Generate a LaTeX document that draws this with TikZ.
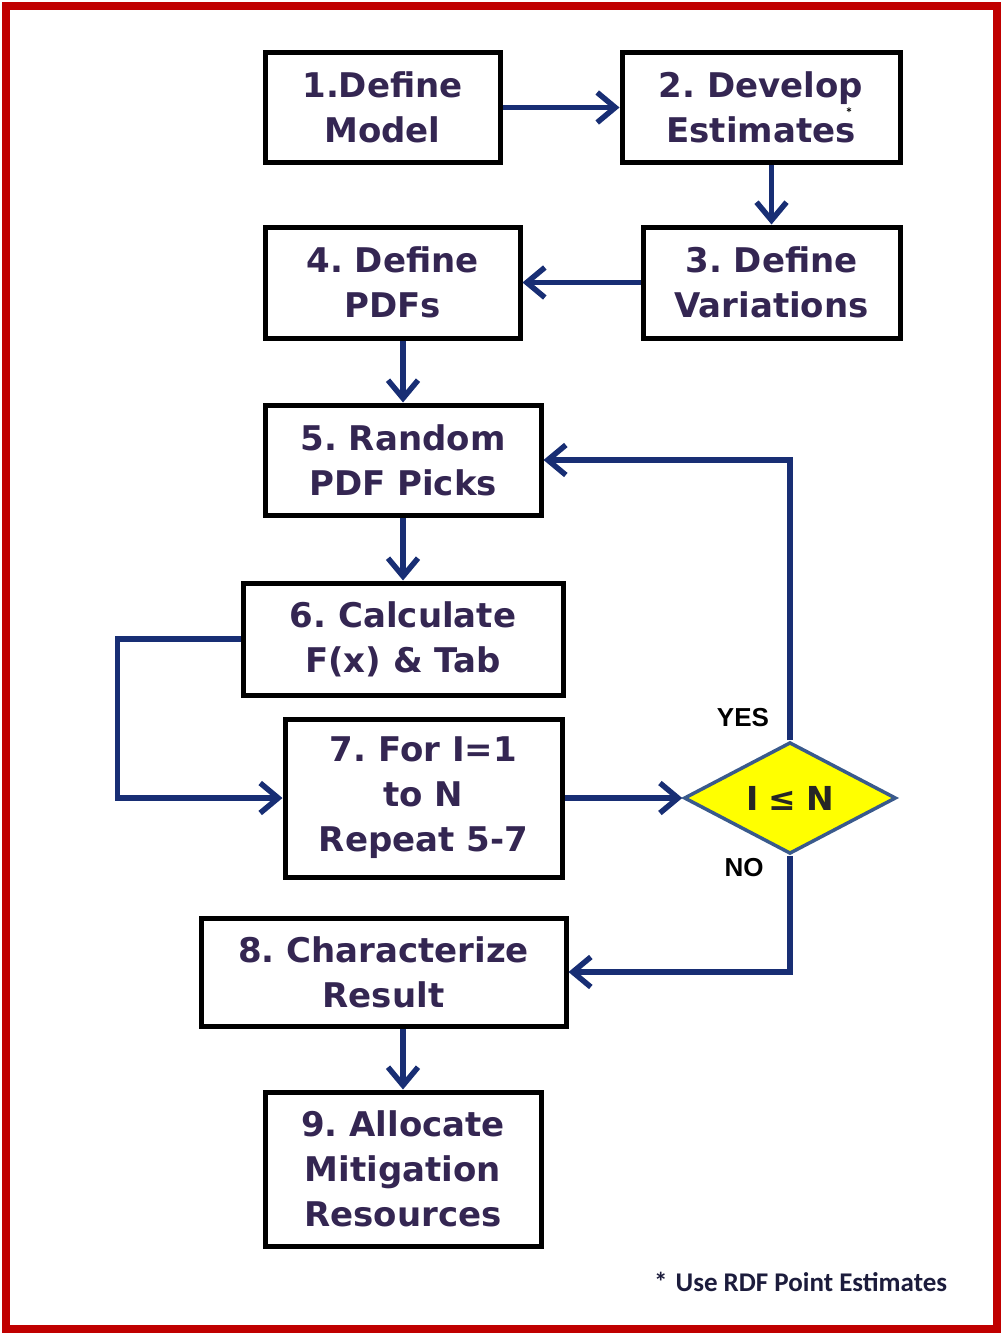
\documentclass[tikz,border=0pt]{standalone}
\usepackage{fontspec}
\setmainfont{DejaVu Sans}
\newfontfamily\labelfont{Liberation Sans}
\newfontfamily\notefont{Carlito}
\usetikzlibrary{arrows.meta,shapes.geometric}
\definecolor{frame}{RGB}{192,0,0}
\definecolor{flow}{RGB}{24,46,116}
\definecolor{boxtext}{RGB}{52,38,82}
\definecolor{notetext}{RGB}{28,28,60}
\definecolor{dmdedge}{RGB}{58,90,140}
\definecolor{dmdfill}{RGB}{255,255,0}
\frenchspacing
\tikzset{
  stepbox/.style={draw=black, line width=5pt, fill=white, inner sep=0pt,
    align=center, text=boxtext,
    font=\fontsize{34}{45}\selectfont\bfseries},
  flowline/.style={draw=flow, line width=5.5pt,
    -{Straight Barb[length=18pt, width=30pt, line width=5.5pt]}},
  branch/.style={font=\labelfont\fontsize{26}{26}\selectfont\bfseries, text=black},
}
\begin{document}
\begin{tikzpicture}[x=1pt,y=-1pt]
  \useasboundingbox (0,0) rectangle (1003,1335);
  % outer frame
  \draw[frame, line width=8pt] (6,6) rectangle (997,1329);

  % process steps
  \node[stepbox, minimum width=235pt, minimum height=109pt] (b1) at (382.5,107.5) {1.Define\\Model};
  \node[stepbox, minimum width=278pt, minimum height=109pt] (b2) at (761,107.5) {2. Develop\\Estimates};
  \node[stepbox, minimum width=257pt, minimum height=111pt] (b3) at (771.5,282.5) {3. Define\\Variations};
  \node[stepbox, minimum width=255pt, minimum height=111pt] (b4) at (392.5,282.5) {4. Define\\PDFs};
  \node[stepbox, minimum width=276pt, minimum height=110pt] (b5) at (403,460) {5. Random\\PDF Picks};
  \node[stepbox, minimum width=320pt, minimum height=112pt] (b6) at (403,639) {6. Calculate\\F(x) \& Tab};
  \node[stepbox, minimum width=277pt, minimum height=158pt] (b7) at (423.5,798) {7. For I=1\\to N\\Repeat 5-7};
  \node[stepbox, minimum width=365pt, minimum height=108pt] (b8) at (383.5,972) {8. Characterize\\Result};
  \node[stepbox, minimum width=276pt, minimum height=154pt] (b9) at (403,1169) {9. Allocate\\Mitigation\\Resources};

  % footnote marker inside step 2
  \node[font=\notefont\fontsize{15}{15}\selectfont\bfseries, text=black, inner sep=0pt] (ast) at (849,113) {*};

  % loop test
  \node[diamond, draw=dmdedge, line width=3.5pt, fill=dmdfill, inner sep=0pt,
        minimum width=212pt, minimum height=110pt,
        font=\fontsize{33}{33}\selectfont\bfseries, text=black!85] (d) at (790,798) {I\hspace{10pt}≤\hspace{10pt}N};

  % connectors
  \draw[flowline] (b1.east) -- (b2.west);
  \draw[flowline] (b2.south -| b3.north) -- (b3.north);
  \draw[flowline] (b3.west) -- (b4.east);
  \draw[flowline] (b4.south -| b5.north) -- (b5.north);
  \draw[flowline] (b5.south) -- (b6.north);
  \draw[flowline] (b6.west) -- ++(-123,0) |- (b7.west);
  \draw[flowline] (b7.east) -- (d.west);
  \draw[flowline] (d.north) |- (b5.east);
  \draw[flowline] (d.south) |- (b8.east);
  \draw[flowline] (b8.south -| b9.north) -- (b9.north);

  % branch labels
  \node[branch] (yes) at (743,718) {YES};
  \node[branch] (no) at (744,868) {NO};

  % footnote
  \node[font=\notefont\fontsize{27}{27}\selectfont\bfseries, text=notetext, anchor=west, inner sep=0pt] (note) at (654,1282) {*\hspace{8pt}Use RDF Point Estimates};
\end{tikzpicture}
\end{document}
